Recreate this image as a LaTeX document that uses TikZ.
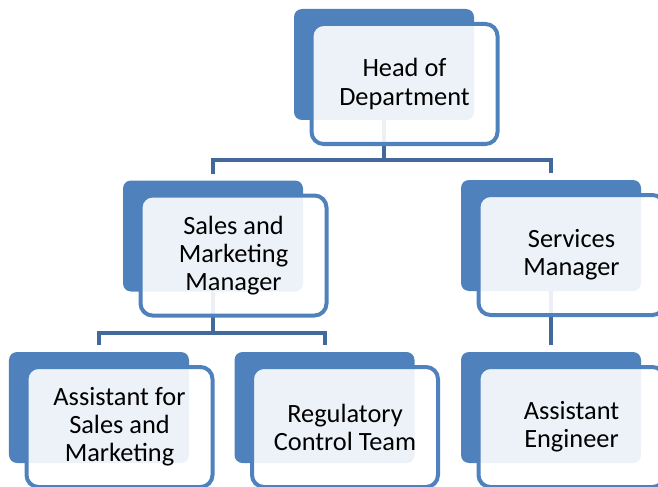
\documentclass[tikz,border=0pt]{standalone}
\usepackage{fontspec}
\setmainfont{Carlito}
\usepackage{tikz}
\definecolor{boxblue}{HTML}{4F81BD}
\definecolor{linkblue}{HTML}{41699C}
\tikzset{
  backbox/.style={fill=boxblue, rounded corners=0.16cm, inner sep=0, outer sep=0,
    minimum width=3.6cm, minimum height=2.22cm},
  frontbox/.style={draw=boxblue, line width=0.08cm, fill=white, fill opacity=0.9,
    text opacity=1, rounded corners=0.24cm, inner sep=0, outer sep=0,
    minimum width=3.72cm, minimum height=2.4cm, align=center,
    font=\fontsize{15}{16}\selectfont},
  link/.style={draw=linkblue, line width=0.08cm}
}

\begin{document}
\begin{tikzpicture}

\useasboundingbox (0,0) rectangle (13.16,9.72);
\clip (0,0) rectangle (13.16,9.72);

\draw (7.68, 8.43) node[backbox] (headback) {};
\draw (4.26, 5.00) node[backbox] (salesback) {};
\draw (11.02, 5.01) node[backbox] (servback) {};
\draw (1.98, 1.57) node[backbox] (asmback) {};
\draw (6.49, 1.57) node[backbox] (regback) {};
\draw (11.02, 1.57) node[backbox] (engback) {};

\draw[link] (headback.south) -- ++(0,-0.8) -| ([yshift=0.14cm]salesback.north);
\draw[link] (headback.south) -- ++(0,-0.8) -| ([yshift=0.14cm]servback.north);
\draw[link] (salesback.south) -- ++(0,-0.82) -| ([yshift=0.14cm]asmback.north);
\draw[link] (salesback.south) -- ++(0,-0.82) -| ([yshift=0.14cm]regback.north);
\draw[link] (servback.south) -- ([yshift=0.14cm]engback.north);

\draw (8.09, 8.04) node[frontbox] (head) {Head of\\Department};
\draw (4.67, 4.61) node[frontbox] (sales) {Sales and\\Marketing\\Manager};
\draw (11.43, 4.62) node[frontbox] (serv) {Services\\Manager};
\draw (2.39, 1.18) node[frontbox] (asm) {Assistant for\\Sales and\\Marketing};
\draw (6.90, 1.18) node[frontbox] (reg) {Regulatory\\Control Team};
\draw (11.43, 1.18) node[frontbox] (eng) {Assistant\\Engineer};
\end{tikzpicture}
\end{document}
